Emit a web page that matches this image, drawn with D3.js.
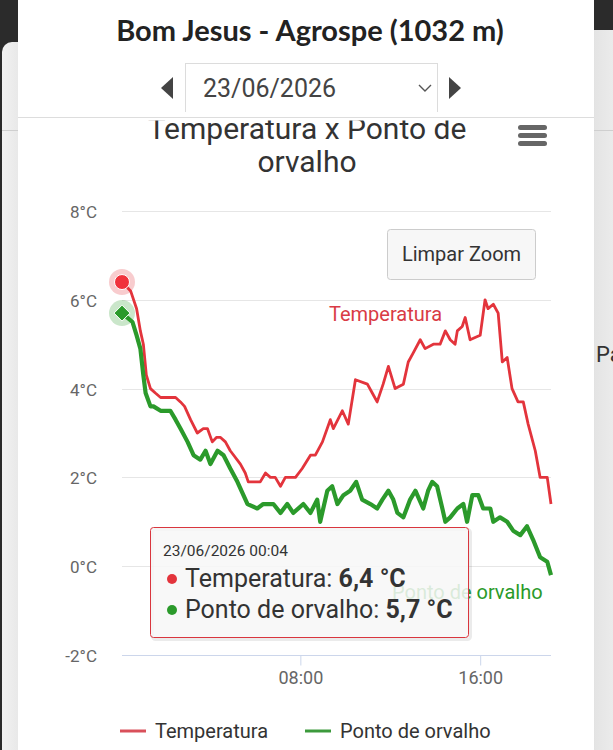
<!DOCTYPE html>
<html>
<head>
<meta charset="utf-8">
<script src="https://cdn.jsdelivr.net/npm/d3@7/dist/d3.min.js"></script>
<style>
html,body{margin:0;padding:0;background:#2b2b2b;}
svg{display:block;}
</style>
</head>
<body>
<svg id="c" width="613" height="750"></svg>
<script>
// ---------- DATA ----------
const stationTitle = "Bom Jesus - Agrospe (1032 m)";
const selectedDate = "23/06/2026";
const chartTitleLines = ["Temperatura x Ponto de", "orvalho"];
const seriesNames = ["Temperatura", "Ponto de orvalho"];
const yTicks = [-2, 0, 2, 4, 6, 8];
const xTickLabels = ["08:00", "16:00"];
const xDomain = ["00:04", "19:09"];

const tempTimes = ["00:04","00:27","00:43","00:53","01:01","01:09","01:20","01:33","01:47","02:27","02:40","02:51","03:07","03:25","03:41","03:52","04:05","04:16","04:27","04:40","04:53","05:20","05:33","05:41","06:00","06:13","06:27","06:40","06:53","07:07","07:20","07:47","08:05","08:27","08:40","08:59","09:20","09:28","09:52","10:08","10:27","10:59","11:12","11:25","11:41","11:55","12:13","12:35","12:48","13:01","13:20","13:33","13:55","14:13","14:27","14:40","14:53","14:59","15:12","15:20","15:33","16:00","16:13","16:21","16:35","16:48","16:59","17:12","17:25","17:41","17:55","18:08","18:27","18:40","18:59","19:09"];
const tempValues = [6.4,6.2,5.8,5.3,5.0,4.3,4.0,3.9,3.8,3.8,3.7,3.6,3.3,3.0,3.1,3.1,2.8,2.9,2.9,2.8,2.6,2.3,2.1,1.9,1.9,1.9,2.1,2.0,2.0,1.8,2.0,2.0,2.2,2.5,2.5,2.8,3.3,3.1,3.5,3.2,4.2,4.1,3.9,3.7,4.1,4.5,4.0,4.1,4.6,4.8,5.1,4.9,5.0,5.0,5.3,5.1,5.0,5.3,5.4,5.6,5.1,5.2,6.0,5.8,5.9,5.7,4.6,4.7,4.0,3.7,3.7,3.2,2.6,2.0,2.0,1.4];

const dewTimes = ["00:04","00:32","00:43","00:53","01:01","01:07","01:20","01:28","01:47","02:13","02:27","02:40","02:59","03:15","03:33","03:47","04:00","04:19","04:35","04:53","05:12","05:39","06:05","06:21","06:48","07:07","07:25","07:41","08:08","08:27","08:45","08:53","09:12","09:25","09:39","09:55","10:13","10:29","10:45","11:07","11:25","11:39","11:55","12:08","12:19","12:35","12:53","13:07","13:28","13:41","13:52","14:05","14:19","14:27","14:40","14:59","15:15","15:25","15:39","15:55","16:08","16:27","16:35","16:53","17:12","17:28","17:47","18:05","18:21","18:40","18:59","19:09"];
const dewValues = [5.7,5.5,5.2,4.9,4.3,3.9,3.6,3.6,3.5,3.5,3.3,3.1,2.8,2.5,2.4,2.6,2.3,2.6,2.5,2.2,1.9,1.4,1.3,1.4,1.4,1.2,1.4,1.2,1.4,1.2,1.5,1.0,1.7,1.8,1.4,1.6,1.7,1.9,1.5,1.4,1.3,1.5,1.7,1.5,1.2,1.1,1.5,1.7,1.3,1.7,1.9,1.8,1.3,1.0,1.1,1.3,1.4,1.0,1.6,1.6,1.3,1.3,1.0,1.1,1.0,0.8,0.7,0.9,0.6,0.2,0.1,-0.2];

const hoverIndex = 0;
const seriesColors = ["#e3343c", "#2b9a2b"];
const legendColors = ["#d9505a", "#3c9a3c"];

// ---------- HELPERS ----------
const parseT = s => { const [h,m] = s.split(":").map(Number); return h*60+m; };
const fmt = v => v.toFixed(1).replace(".", ",");

const svg = d3.select("#c");
const F = "Roboto, 'Noto Sans', sans-serif";

// ---------- PAGE BACKGROUND ----------
const defs = svg.append("defs");
const gL = defs.append("linearGradient").attr("id","gl").attr("x1","0").attr("x2","1");
gL.append("stop").attr("offset","0").attr("stop-color","#f2f2f2");
gL.append("stop").attr("offset","0.6").attr("stop-color","#e4e4e4");
gL.append("stop").attr("offset","1").attr("stop-color","#9a9a9a");
const gR = defs.append("linearGradient").attr("id","gr").attr("x1","0").attr("x2","1");
gR.append("stop").attr("offset","0").attr("stop-color","#9a9a9a");
gR.append("stop").attr("offset","0.4").attr("stop-color","#e4e4e4");
gR.append("stop").attr("offset","1").attr("stop-color","#f2f2f2");

svg.append("rect").attr("width",613).attr("height",750).attr("fill","#2b2b2b");
svg.append("rect").attr("x",2).attr("y",42).attr("width",40).attr("height",760).attr("rx",10).attr("fill","url(#gl)");
svg.append("rect").attr("x",571).attr("y",30).attr("width",60).attr("height",760).attr("rx",10).attr("fill","url(#gr)");
svg.append("line").attr("x1",2).attr("x2",18).attr("y1",130.5).attr("y2",130.5).attr("stroke","#cfcfcf");
svg.append("line").attr("x1",594).attr("x2",613).attr("y1",130.5).attr("y2",130.5).attr("stroke","#cfcfcf");
svg.append("text").attr("x",596).attr("y",362).attr("font-family",F).attr("font-size",22).attr("fill","#333").text("Pa");
svg.append("rect").attr("x",18).attr("y",-5).attr("width",576).attr("height",770).attr("fill","#ffffff");

// ---------- HEADER ----------
svg.append("text").attr("x",310).attr("y",41).attr("text-anchor","middle")
  .attr("font-family","Lato, 'Open Sans', sans-serif").attr("font-weight","bold").attr("font-size",29)
  .attr("fill","#222").text(stationTitle);
svg.append("rect").attr("x",185.5).attr("y",63.5).attr("width",252).attr("height",49)
  .attr("fill","#fff").attr("stroke","#dcdcdc");
svg.append("text").attr("x",203).attr("y",97).attr("font-family",F).attr("font-size",25)
  .attr("fill","#444").text(selectedDate);
svg.append("path").attr("d","M419,85 L425,91 L431,85").attr("fill","none").attr("stroke","#555").attr("stroke-width",1.4);
svg.append("path").attr("d","M173,77 L173,99 L161,88 Z").attr("fill","#444");
svg.append("path").attr("d","M449,77 L449,99 L461,88 Z").attr("fill","#444");

// ---------- CHART ----------
const x = d3.scaleLinear().domain(xDomain.map(parseT)).range([122, 551]);
const y = d3.scaleLinear().domain([d3.min(yTicks), d3.max(yTicks)]).range([655, 211]);

// grid
svg.append("g").selectAll("line").data(yTicks.filter(t => t !== d3.min(yTicks))).join("line")
  .attr("x1",122).attr("x2",551).attr("y1",d=>Math.round(y(d))+0.5).attr("y2",d=>Math.round(y(d))+0.5)
  .attr("stroke","#e6e6e6").attr("stroke-width",1);

// y axis labels
const yAxis = d3.axisLeft(y).tickValues(yTicks).tickSize(0).tickPadding(0).tickFormat(d => d + "°C");
const yg = svg.append("g").attr("transform","translate(97,0)").call(yAxis);
yg.select(".domain").remove();
yg.selectAll("text").attr("font-family",F).attr("font-size",17).attr("fill","#666").attr("dy","0.38em");

// x axis
const xAxis = d3.axisBottom(x).tickValues(xTickLabels.map(parseT)).tickSize(10).tickPadding(6)
  .tickFormat((d,i) => xTickLabels[i]);
const xg = svg.append("g").attr("transform","translate(0,655.5)").call(xAxis);
xg.select(".domain").attr("stroke","#ccd6eb").attr("d","M122,0H551");
xg.selectAll(".tick line").attr("stroke","#ccd6eb");
xg.selectAll("text").attr("font-family",F).attr("font-size",18).attr("fill","#666");

// clip
defs.append("clipPath").attr("id","plot").append("rect").attr("x",118).attr("y",205).attr("width",436).attr("height",452);

const line = d3.line().x(d => x(parseT(d[0]))).y(d => y(d[1]));
const tempData = tempTimes.map((t,i) => [t, tempValues[i]]);
const dewData = dewTimes.map((t,i) => [t, dewValues[i]]);

const pg = svg.append("g").attr("clip-path","url(#plot)");
pg.append("path").datum(tempData).attr("d",line).attr("fill","none")
  .attr("stroke",seriesColors[0]).attr("stroke-width",2.8).attr("stroke-linejoin","round");
pg.append("path").datum(dewData).attr("d",line).attr("fill","none")
  .attr("stroke",seriesColors[1]).attr("stroke-width",4.2).attr("stroke-linejoin","round");

// series data labels
svg.append("text").attr("x",329).attr("y",321).attr("font-family",F).attr("font-size",20)
  .attr("fill","#d93b45").text(seriesNames[0]);
svg.append("text").attr("x",392).attr("y",599).attr("font-family",F).attr("font-size",20)
  .attr("fill","#2a9a2a").text(seriesNames[1]);

// hover markers
const hx = x(parseT(tempTimes[hoverIndex]));
const hyT = y(tempValues[hoverIndex]);
const hyD = y(dewValues[hoverIndex]);
svg.append("circle").attr("cx",hx).attr("cy",hyT).attr("r",13).attr("fill",seriesColors[0]).attr("fill-opacity",0.25);
svg.append("circle").attr("cx",hx).attr("cy",hyT).attr("r",7.5).attr("fill","#f0323c").attr("stroke","#fff").attr("stroke-width",1);
svg.append("circle").attr("cx",hx).attr("cy",hyD).attr("r",13).attr("fill",seriesColors[1]).attr("fill-opacity",0.25);
svg.append("path").attr("d",`M${hx},${hyD-8} L${hx+8},${hyD} L${hx},${hyD+8} L${hx-8},${hyD} Z`)
  .attr("fill",seriesColors[1]).attr("stroke","#fff").attr("stroke-width",1);

// Reset zoom button
svg.append("rect").attr("x",387.5).attr("y",229.5).attr("width",148).attr("height",50).attr("rx",3)
  .attr("fill","#f7f7f7").attr("stroke","#cccccc");
svg.append("text").attr("x",461.5).attr("y",261).attr("text-anchor","middle").attr("font-family",F)
  .attr("font-size",20).attr("fill","#333").text("Limpar Zoom");

// chart title (partly hidden under the sticky header)
svg.append("text").attr("x",307).attr("y",139).attr("text-anchor","middle").attr("font-family",F)
  .attr("font-size",30).attr("fill","#333").text(chartTitleLines[0]);
svg.append("text").attr("x",307).attr("y",172).attr("text-anchor","middle").attr("font-family",F)
  .attr("font-size",30).attr("fill","#333").text(chartTitleLines[1]);
// hamburger
[125,133,141].forEach(yy => svg.append("rect").attr("x",518).attr("y",yy).attr("width",29).attr("height",5).attr("rx",2.5).attr("fill","#666"));

// sticky header overlay
svg.append("rect").attr("x",18).attr("y",112).attr("width",576).attr("height",8.5).attr("fill","#fff");
svg.append("line").attr("x1",18).attr("x2",594).attr("y1",117.5).attr("y2",117.5).attr("stroke","#dddddd");

// tooltip
const tt = svg.append("g");
tt.append("rect").attr("x",152.5).attr("y",529.5).attr("width",318).attr("height",110).attr("rx",3)
  .attr("fill","none").attr("stroke","#000").attr("stroke-opacity",0.08).attr("stroke-width",3);
tt.append("rect").attr("x",150.5).attr("y",527.5).attr("width",318).attr("height",110).attr("rx",3)
  .attr("fill","#f7f7f7").attr("fill-opacity",0.86).attr("stroke","#d9363e").attr("stroke-width",1);
tt.append("text").attr("x",163).attr("y",556).attr("font-family",F).attr("font-size",15.5).attr("fill","#333")
  .text(selectedDate + " " + tempTimes[hoverIndex]);
const rows = [[seriesNames[0], tempValues[hoverIndex], "#e3343c"], [seriesNames[1], dewValues[hoverIndex], "#2b9a2b"]];
rows.forEach((r,i) => {
  const by = 587 + i*31;
  tt.append("circle").attr("cx",172).attr("cy",by-8).attr("r",5).attr("fill",r[2]);
  const t = tt.append("text").attr("x",185).attr("y",by).attr("font-family",F).attr("font-size",25).attr("fill","#333");
  t.append("tspan").text(r[0] + ": ");
  t.append("tspan").attr("font-weight","bold").text(fmt(r[1]) + " °C");
});

// legend
const lg = svg.append("g");
const legendX = [120, 305];
seriesNames.forEach((n,i) => {
  lg.append("line").attr("x1",legendX[i]).attr("x2",legendX[i]+26).attr("y1",731).attr("y2",731)
    .attr("stroke",legendColors[i]).attr("stroke-width",3);
  lg.append("text").attr("x",legendX[i]+35).attr("y",738).attr("font-family",F).attr("font-size",20)
    .attr("fill","#333").text(n);
});
</script>
</body>
</html>
